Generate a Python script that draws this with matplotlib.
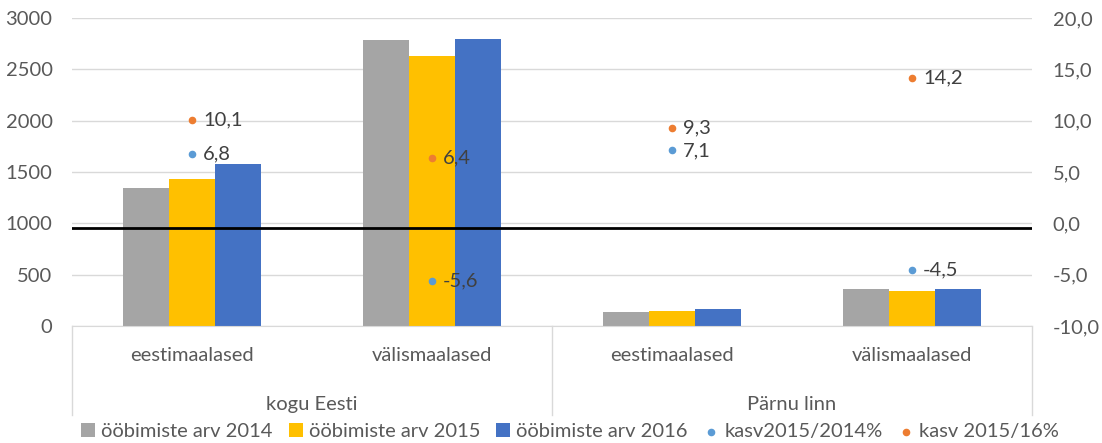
import numpy as np
import matplotlib.pyplot as plt
from matplotlib.transforms import blended_transform_factory

plt.rcParams['font.family'] = ['Lato', 'DejaVu Sans']

groups = ['kogu Eesti', 'Pärnu linn']
categories = ['eestimaalased', 'välismaalased', 'eestimaalased', 'välismaalased']
arv_2014 = [1341, 2786, 140, 357]
arv_2015 = [1429, 2630, 149, 341]
arv_2016 = [1578, 2799, 169, 363]
kasv_15_14 = [6.8, -5.6, 7.1, -4.5]
kasv_15_16 = [10.1, 6.4, 9.3, 14.2]

txt = '#595959'
grid = '#D9D9D9'
fs = 14.5

fig = plt.figure(figsize=(11.02, 4.43), dpi=100)
ax = fig.add_axes([72/1102, 117/443, 960/1102, 308/443])
ax2 = ax.twinx()

x = np.arange(len(categories))
w = 0.192
ax.bar(x - w, arv_2014, w, color='#A5A5A5', label='ööbimiste arv 2014', zorder=2)
ax.bar(x, arv_2015, w, color='#FFC000', label='ööbimiste arv 2015', zorder=2)
ax.bar(x + w, arv_2016, w, color='#4472C4', label='ööbimiste arv 2016', zorder=2)

ax.set_xlim(-0.5, 3.5)
ax.set_ylim(0, 3000)
ax.set_yticks(np.arange(0, 3001, 500))
ax.yaxis.grid(True, color=grid, lw=1)
ax.set_axisbelow(True)
ax.tick_params(length=0, labelsize=fs, colors=txt)
ax.tick_params(axis='y', pad=14)
ax.set_xticks(x)
ax.set_xticklabels(categories)
ax.tick_params(axis='x', pad=15)
for s in ['top', 'left', 'right']:
    ax.spines[s].set_visible(False)
ax.spines['bottom'].set_color(grid)

ax2.set_ylim(-10, 20)
ax2.set_yticks(np.arange(-10, 21, 5))
ax2.set_yticklabels([f'{v:.1f}'.replace('.', ',') for v in np.arange(-10, 21, 5)])
ax2.tick_params(length=0, labelsize=fs, colors=txt, pad=15)
for s in ['top', 'left', 'right', 'bottom']:
    ax2.spines[s].set_visible(False)

ax2.axhline(-0.45, color='black', lw=2, zorder=3)
ax2.scatter(x, kasv_15_14, s=20, color='#5B9BD5', label='kasv2015/2014%', zorder=4)
ax2.scatter(x, kasv_15_16, s=20, color='#ED7D31', label='kasv 2015/16%', zorder=4)
for xi, v in zip(x, kasv_15_14):
    ax2.annotate(f'{v:.1f}'.replace('.', ','), (xi, v), xytext=(8, 0),
                 textcoords='offset points', va='center', fontsize=fs, color='#404040')
for xi, v in zip(x, kasv_15_16):
    ax2.annotate(f'{v:.1f}'.replace('.', ','), (xi, v), xytext=(8, 0),
                 textcoords='offset points', va='center', fontsize=fs, color='#404040')

# two-level category axis
tr = blended_transform_factory(ax.transData, ax.transAxes)
for xs in [-0.5, 1.5, 3.5]:
    ax.plot([xs, xs], [0, -0.29], color=grid, lw=1, transform=tr, clip_on=False)
for i, g in enumerate(groups):
    ax.text(2 * i + 0.5, -0.255, g, transform=tr, ha='center', va='center',
            fontsize=fs, color=txt)

h1, l1 = ax.get_legend_handles_labels()
h2, l2 = ax2.get_legend_handles_labels()
fig.legend(h1 + h2, l1 + l2, loc='center', bbox_to_anchor=(0.517, 0.026), ncol=5,
           frameon=False, fontsize=fs, labelcolor=txt, handlelength=0.7,
           handleheight=0.7, handletextpad=0.3, columnspacing=0.8)

fig.savefig('out.png', dpi=100)
